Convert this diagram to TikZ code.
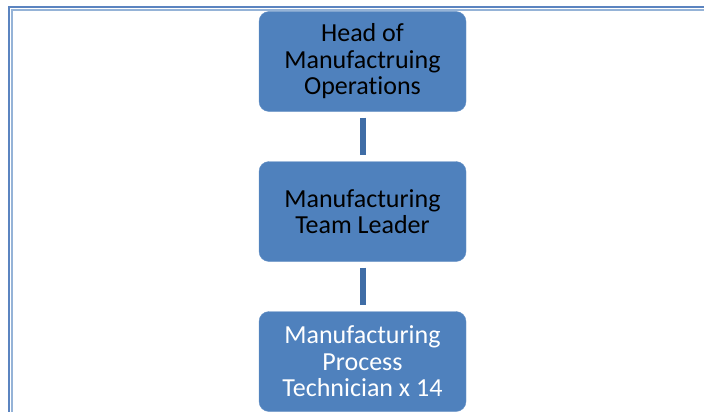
\documentclass[tikz,border=0pt]{standalone}
\usepackage{fontspec}
\setmainfont[Ligatures=NoCommon]{Carlito}
\usepackage{tikz}
\usetikzlibrary{positioning}

\definecolor{boxblue}{HTML}{4F81BD}
\definecolor{linkblue}{HTML}{3F6DA6}
\definecolor{frameout}{HTML}{5B84C0}
\definecolor{framein}{HTML}{95B3D7}

\begin{document}
\begin{tikzpicture}[x=1pt,y=-1pt,node distance=150pt,on grid,
    role/.style={rectangle, rounded corners=10pt, fill=boxblue, draw=boxblue!85!white,
      minimum width=207pt, minimum height=100pt, align=center,
      font=\fontsize{26}{26.5}\selectfont},
    link/.style={line width=6pt, draw=linkblue, shorten >=6pt, shorten <=6pt}]
   \useasboundingbox (0,0) rectangle (704,412);
   % page frame, open at right and bottom
   \draw[frameout, line width=2pt] (9,412) -- (9,7) -- (704,7);
   \draw[framein, line width=1.5pt] (11.8,412) -- (11.8,10) -- (704,10);
   \node[role] (head) at (362.5,61.5) {Head of\\Manufactruing\\Operations};
   \node[role] (leader) [below=of head] {Manufacturing\\Team Leader};
   \node[role, text=white] (tech) [below=of leader] {Manufacturing\\Process\\Technician x 14};
   \path[link]
    (head) edge (leader)
    (leader) edge (tech);
\end{tikzpicture}
\end{document}
